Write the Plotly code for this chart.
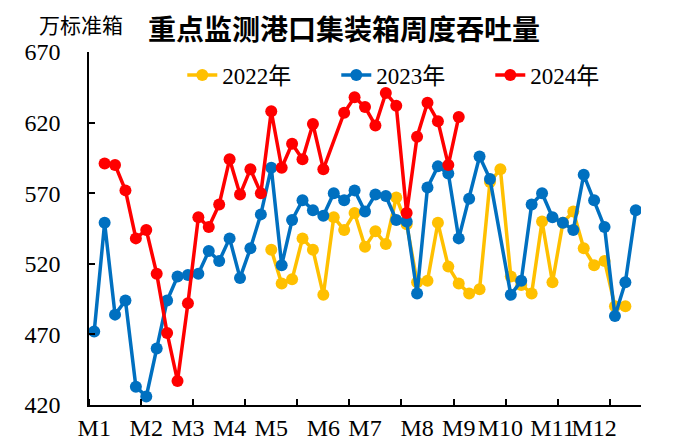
import plotly.graph_objects as go

# Week index on the horizontal axis (53 weekly slots)
weeks = list(range(53))

# Month labels placed at the first week of each month
month_pos = [0, 5, 9, 13, 17, 22, 26, 31, 35, 39, 44, 48]
month_labels = ["M1", "M2", "M3", "M4", "M5", "M6",
                "M7", "M8", "M9", "M10", "M11", "M12"]

# Weekly container throughput at key monitored ports (10k TEU)
vol_2022 = [None] * 17 + [
    530, 506, 509, 538, 530, 498, 553, 544, 556, 532,
    543, 534, 567, 548, 507, 508, 549, 518, 506, 499,
    502, 578, 587, 511, 505, 499, 550, 507, 549, 557,
    531, 519, 522, 490, 490,
] + [None]

vol_2023 = [
    472, 549, 484, 494, 433, 426, 460, 494, 511, 512,
    513, 529, 522, 538, 510, 531, 555, 588, 519, 551,
    565, 558, 554, 570, 565, 572, 557, 569, 568, 551,
    550, 499, 574, 589, 584, 538, 566, 596, 580, None,
    498, 508, 562, 570, 553, 549, 544, 583, 565, 546,
    483, 507, 558,
]

vol_2024 = [
    None, 591, 590, 572, 538, 544, 513, 471, 437, 492,
    553, 546, 562, 594, 569, 587, 570, 628, 588, 605,
    594, 619, 587, None, 627, 638, 631, 618, 641, 632,
    556, 610, 634, 621, 590, 624,
] + [None] * 17

series = [
    ("2022年", vol_2022, "#FFC000"),
    ("2023年", vol_2023, "#0070C0"),
    ("2024年", vol_2024, "#FF0000"),
]

serif = "Liberation Serif, Times New Roman, Noto Sans CJK SC, serif"
cjk = "Noto Sans CJK SC, sans-serif"

fig = go.Figure()
for name, vals, color in series:
    fig.add_trace(go.Scatter(
        x=weeks, y=vals, name=name, mode="lines+markers",
        connectgaps=True,
        line=dict(color=color, width=3.5),
        marker=dict(color=color, size=12),
    ))

fig.update_layout(
    width=683, height=447,
    margin=dict(l=89, r=42, t=52, b=42),
    paper_bgcolor="white", plot_bgcolor="white",
    showlegend=True,
    legend=dict(
        orientation="h", x=0.169, xanchor="left", y=0.935, yanchor="middle",
        font=dict(family=serif, size=23, color="black"),
        entrywidth=109, entrywidthmode="pixels",
        bgcolor="rgba(0,0,0,0)", itemclick=False,
    ),
    title=dict(
        text="<b>重点监测港口集装箱周度吞吐量</b>",
        x=148 / 683, xanchor="left", xref="container",
        y=1 - 30 / 447, yanchor="middle", yref="container",
        font=dict(family=cjk, size=28, color="black"),
    ),
    annotations=[dict(
        text="万标准箱", xref="paper", yref="paper",
        x=(37 - 89) / 552, y=(405 - 24) / 353,
        xanchor="left", yanchor="middle", showarrow=False,
        font=dict(family=cjk, size=21, color="black"),
    )],
)

fig.update_xaxes(
    range=[-0.5, 52.5], automargin=False,
    tickmode="array", tickvals=month_pos, ticktext=month_labels,
    tickangle=0, ticks="", showgrid=False, zeroline=False,
    showline=True, linecolor="black", linewidth=1.5,
    tickfont=dict(family=serif, size=24, color="black"),
    minor=dict(tickmode="linear", tick0=4.5, dtick=5, ticks="inside",
               ticklen=6, tickcolor="black", tickwidth=1.5, showgrid=False),
)

fig.update_yaxes(
    range=[420, 670], automargin=False,
    tickmode="linear", tick0=420, dtick=50,
    ticks="inside", ticklen=6, tickcolor="black", tickwidth=1.5,
    showgrid=False, zeroline=False,
    showline=True, linecolor="black", linewidth=1.5,
    tickfont=dict(family=serif, size=24, color="black"),
    ticklabelstandoff=22,
)

fig.write_html("out.html")
